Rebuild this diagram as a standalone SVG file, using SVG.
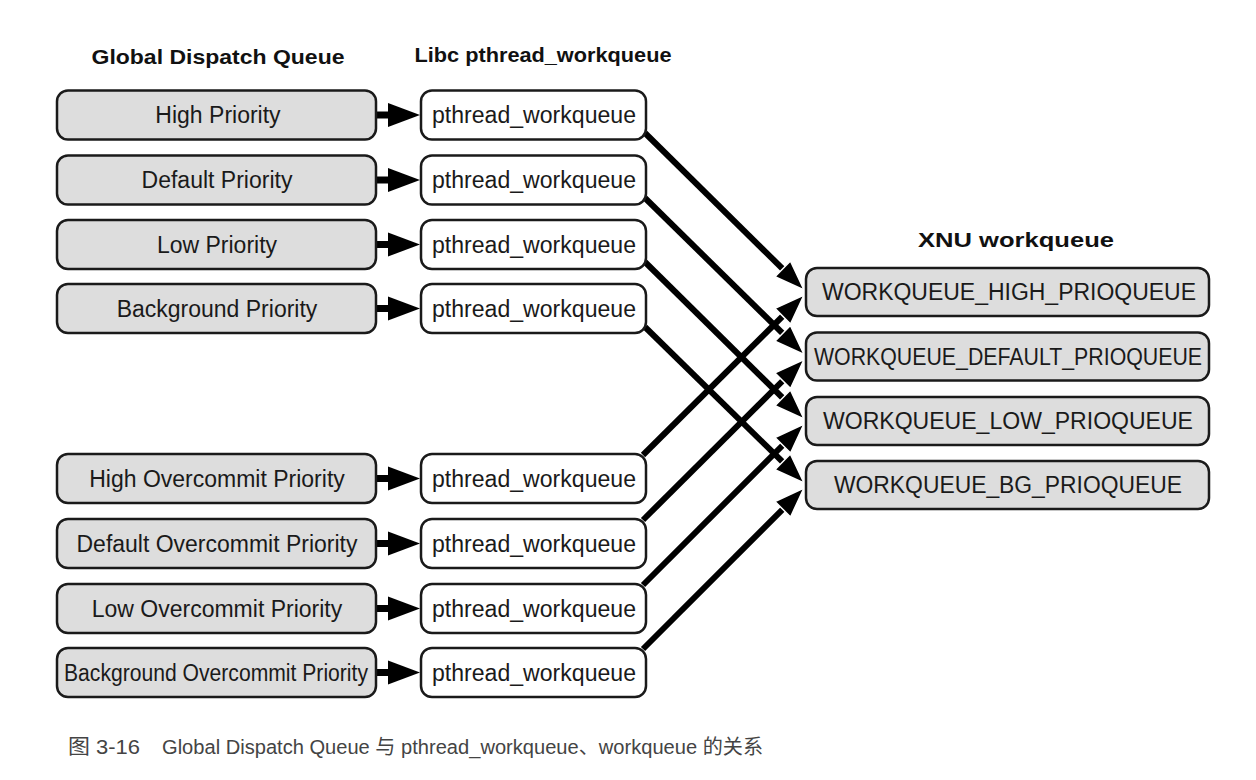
<svg xmlns="http://www.w3.org/2000/svg" width="1256" height="780" viewBox="0 0 1256 780">
<style>
.gray{fill:#dddddd;stroke:#1a1a1a;stroke-width:2.5}
.white{fill:#ffffff;stroke:#1a1a1a;stroke-width:2.5}
.t{font-family:"Liberation Sans",Arial,sans-serif;font-size:23px;fill:#1a1a1a;text-anchor:middle}
.h{font-family:"Liberation Sans",Arial,sans-serif;font-size:21px;font-weight:bold;fill:#111;text-anchor:middle}
.cap{font-family:"Liberation Sans","Noto Sans CJK SC",sans-serif;font-size:20px;fill:#444}
.conn{stroke:#000;stroke-width:6;fill:none}
.short{stroke:#000;stroke-width:7;fill:none}
</style>
<defs>
<marker id="big" markerUnits="userSpaceOnUse" markerWidth="40" markerHeight="30" refX="18" refY="11" orient="auto" overflow="visible">
<path d="M0,0 L30,11 L0,22 z" fill="#000" stroke="#fff" stroke-width="1.5"/>
</marker>
<marker id="small" markerUnits="userSpaceOnUse" markerWidth="40" markerHeight="30" refX="4" refY="12" orient="auto" overflow="visible">
<path d="M0,0 L32,12 L0,24 z" fill="#000"/>
</marker>
</defs>
<rect width="1256" height="780" fill="#ffffff"/>
<g id="titles">
<text class="h" x="218" y="64" textLength="253" lengthAdjust="spacingAndGlyphs">Global Dispatch Queue</text>
<text class="h" x="543" y="62" textLength="257" lengthAdjust="spacingAndGlyphs">Libc pthread_workqueue</text>
<text class="h" x="1016" y="247" textLength="196" lengthAdjust="spacingAndGlyphs">XNU workqueue</text>
</g>
<g id="connectors">
<line class="short" x1="376" y1="115" x2="392" y2="115" marker-end="url(#small)"/>
<line class="short" x1="376" y1="180" x2="392" y2="180" marker-end="url(#small)"/>
<line class="short" x1="376" y1="244.5" x2="392" y2="244.5" marker-end="url(#small)"/>
<line class="short" x1="376" y1="308.5" x2="392" y2="308.5" marker-end="url(#small)"/>
<line class="short" x1="376" y1="478.5" x2="392" y2="478.5" marker-end="url(#small)"/>
<line class="short" x1="376" y1="543.5" x2="392" y2="543.5" marker-end="url(#small)"/>
<line class="short" x1="376" y1="608.5" x2="392" y2="608.5" marker-end="url(#small)"/>
<line class="short" x1="376" y1="672.5" x2="392" y2="672.5" marker-end="url(#small)"/>
<line class="conn" x1="643" y1="455" x2="795.5" y2="303.5" marker-end="url(#big)"/>
<line class="conn" x1="643" y1="520" x2="795.5" y2="368" marker-end="url(#big)"/>
<line class="conn" x1="643" y1="585" x2="795.5" y2="432.5" marker-end="url(#big)"/>
<line class="conn" x1="643" y1="649" x2="795.5" y2="496.5" marker-end="url(#big)"/>
<line class="conn" x1="645" y1="133" x2="795.5" y2="281.5" marker-end="url(#big)"/>
<line class="conn" x1="645" y1="198" x2="795.5" y2="346" marker-end="url(#big)"/>
<line class="conn" x1="645" y1="262" x2="795.5" y2="410.5" marker-end="url(#big)"/>
<line class="conn" x1="645" y1="327" x2="795.5" y2="474.5" marker-end="url(#big)"/>
</g>
<g id="gdq-high"><rect class="gray" x="57" y="90.5" width="319" height="49" rx="11"/><text class="t" x="218" y="123">High Priority</text></g>
<g id="gdq-default"><rect class="gray" x="57" y="155.5" width="319" height="49" rx="11"/><text class="t" x="217" y="188">Default Priority</text></g>
<g id="gdq-low"><rect class="gray" x="57" y="220" width="319" height="49" rx="11"/><text class="t" x="217" y="252.5">Low Priority</text></g>
<g id="gdq-bg"><rect class="gray" x="57" y="284" width="319" height="49" rx="11"/><text class="t" x="217" y="316.5">Background Priority</text></g>
<g id="gdq-high-oc"><rect class="gray" x="57" y="454" width="319" height="49" rx="11"/><text class="t" x="217" y="486.5">High Overcommit Priority</text></g>
<g id="gdq-default-oc"><rect class="gray" x="57" y="519" width="319" height="49" rx="11"/><text class="t" x="217" y="551.5" textLength="281" lengthAdjust="spacingAndGlyphs">Default Overcommit Priority</text></g>
<g id="gdq-low-oc"><rect class="gray" x="57" y="584" width="319" height="49" rx="11"/><text class="t" x="217" y="616.5">Low Overcommit Priority</text></g>
<g id="gdq-bg-oc"><rect class="gray" x="57" y="648" width="319" height="49" rx="11"/><text class="t" x="216" y="680.5" textLength="304" lengthAdjust="spacingAndGlyphs">Background Overcommit Priority</text></g>
<g id="pw-1"><rect class="white" x="421" y="90.5" width="225" height="49" rx="11"/><text class="t" x="534" y="123" textLength="204" lengthAdjust="spacingAndGlyphs">pthread_workqueue</text></g>
<g id="pw-2"><rect class="white" x="421" y="155.5" width="225" height="49" rx="11"/><text class="t" x="534" y="188" textLength="204" lengthAdjust="spacingAndGlyphs">pthread_workqueue</text></g>
<g id="pw-3"><rect class="white" x="421" y="220" width="225" height="49" rx="11"/><text class="t" x="534" y="252.5" textLength="204" lengthAdjust="spacingAndGlyphs">pthread_workqueue</text></g>
<g id="pw-4"><rect class="white" x="421" y="284" width="225" height="49" rx="11"/><text class="t" x="534" y="316.5" textLength="204" lengthAdjust="spacingAndGlyphs">pthread_workqueue</text></g>
<g id="pw-5"><rect class="white" x="421" y="454" width="225" height="49" rx="11"/><text class="t" x="534" y="486.5" textLength="204" lengthAdjust="spacingAndGlyphs">pthread_workqueue</text></g>
<g id="pw-6"><rect class="white" x="421" y="519" width="225" height="49" rx="11"/><text class="t" x="534" y="551.5" textLength="204" lengthAdjust="spacingAndGlyphs">pthread_workqueue</text></g>
<g id="pw-7"><rect class="white" x="421" y="584" width="225" height="49" rx="11"/><text class="t" x="534" y="616.5" textLength="204" lengthAdjust="spacingAndGlyphs">pthread_workqueue</text></g>
<g id="pw-8"><rect class="white" x="421" y="648" width="225" height="49" rx="11"/><text class="t" x="534" y="680.5" textLength="204" lengthAdjust="spacingAndGlyphs">pthread_workqueue</text></g>
<g id="xnu-high"><rect class="gray" x="806" y="268" width="403" height="48" rx="11"/><text class="t" x="1009" y="300" textLength="374" lengthAdjust="spacingAndGlyphs">WORKQUEUE_HIGH_PRIOQUEUE</text></g>
<g id="xnu-default"><rect class="gray" x="806" y="332.5" width="403" height="48" rx="11"/><text class="t" x="1008" y="364.5" textLength="388" lengthAdjust="spacingAndGlyphs">WORKQUEUE_DEFAULT_PRIOQUEUE</text></g>
<g id="xnu-low"><rect class="gray" x="806" y="397" width="403" height="48" rx="11"/><text class="t" x="1008" y="429" textLength="370" lengthAdjust="spacingAndGlyphs">WORKQUEUE_LOW_PRIOQUEUE</text></g>
<g id="xnu-bg"><rect class="gray" x="806" y="461" width="403" height="48" rx="11"/><text class="t" x="1008" y="493" textLength="348" lengthAdjust="spacingAndGlyphs">WORKQUEUE_BG_PRIOQUEUE</text></g>
<g id="caption">
<text class="cap" x="68" y="754" textLength="72" lengthAdjust="spacingAndGlyphs">图 3-16</text>
<text class="cap" x="162" y="754" textLength="601" lengthAdjust="spacingAndGlyphs">Global Dispatch Queue 与 pthread_workqueue、workqueue 的关系</text>
</g>
</svg>
